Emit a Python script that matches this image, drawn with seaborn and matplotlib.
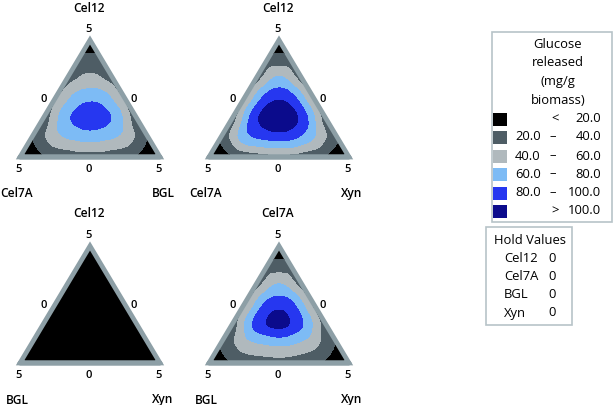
import numpy as np
import matplotlib
matplotlib.use("Agg")
import matplotlib.pyplot as plt
import matplotlib.tri as mtri
from matplotlib.patches import Rectangle
import seaborn as sns

# ---------------- data ----------------
levels = [20, 40, 60, 80, 100]
band_colors = ["#000000", "#4e5d65", "#b0b9bd", "#7dbbf5", "#2637f0", "#0b0b8c"]

panel_top = ["Cel12", "Cel12", "Cel12", "Cel7A"]
panel_left = ["Cel7A", "Cel7A", "BGL", "BGL"]
panel_right = ["BGL", "Xyn", "Xyn", "Xyn"]
vertex_tick = "5"
edge_tick = "0"

# glucose released on a simplex lattice (rows from top vertex down, left to right)
glucose_cel12_cel7a_bgl = [
    [5],
    [25, 25],
    [31, 46, 31],
    [35, 70, 72, 35],
    [26, 75, 93, 77, 26],
    [19, 52, 65, 65, 52, 19],
    [5, 18, 26, 30, 26, 18, 5],
]
glucose_cel12_cel7a_xyn = [
    [5],
    [25, 25],
    [30, 65, 30],
    [35, 90, 90, 35],
    [28, 95, 118, 92, 28],
    [22, 70, 85, 85, 60, 22],
    [5, 18, 28, 32, 28, 18, 5],
]
glucose_cel12_bgl_xyn = [
    [5],
    [8, 8],
    [9, 11, 9],
    [10, 12, 12, 10],
    [9, 12, 13, 12, 9],
    [8, 10, 11, 11, 10, 8],
    [5, 7, 8, 9, 8, 7, 5],
]
glucose_cel7a_bgl_xyn = [
    [5],
    [25, 25],
    [30, 62, 30],
    [33, 86, 86, 33],
    [28, 86, 106, 81, 28],
    [22, 51, 62, 62, 46, 18],
    [5, 20, 27, 30, 25, 17, 5],
]
panel_values = [glucose_cel12_cel7a_bgl, glucose_cel12_cel7a_xyn,
                glucose_cel12_bgl_xyn, glucose_cel7a_bgl_xyn]

legend_title = ["Glucose", "released", "(mg/g", "biomass)"]
hold_names = ["Cel12", "Cel7A", "BGL", "Xyn"]
hold_values = [0, 0, 0, 0]

# ---------------- style ----------------
sns.set_theme(style="white")
plt.rcParams["font.family"] = ["Open Sans", "DejaVu Sans"]
palette = sns.color_palette(band_colors)
border_col = "#8d9fa6"
box_col = "#b7c3c8"

W, Hpx = 614, 405
fig = plt.figure(figsize=(W / 100, Hpx / 100), dpi=100)
H = np.sqrt(3) / 2


def fx(x):
    return x / W


def fy(y):
    return 1 - y / Hpx


# triangle anchor (top vertex x, top y, base y, left x, right x) in pixels
anchors = [
    (90, 40, 157, 20, 160),
    (279, 40, 157, 209, 349),
    (90, 246, 363, 20, 160),
    (279, 246, 363, 209, 349),
]


def draw_panel(ax, rows):
    n = len(rows) - 1
    xs, ys, zs = [], [], []
    for r, row in enumerate(rows):
        i = n - r
        for p, v in enumerate(row):
            k = p
            xs.append((k + 0.5 * i) / n)
            ys.append(H * i / n)
            zs.append(v)
    xs, ys, zs = np.array(xs), np.array(ys), np.array(zs, dtype=float)
    tri = mtri.Triangulation(xs, ys)
    interp = mtri.CubicTriInterpolator(tri, zs, kind="geom")
    refiner = mtri.UniformTriRefiner(tri)
    tri_r, z_r = refiner.refine_field(zs, interp, subdiv=4)
    ax.tricontourf(tri_r, z_r, levels=[-1e4] + levels + [1e4], colors=palette)
    ax.plot([0, 1, 0.5, 0, 1], [0, 0, H, 0, 0], color=border_col, lw=3.4,
            solid_joinstyle="miter", clip_on=False)
    ax.set_xlim(0, 1)
    ax.set_ylim(0, H)
    ax.axis("off")


tick_kw = dict(fontsize=8, fontweight="semibold", ha="center", va="center", color="#000000")
name_kw = dict(fontsize=8.6, fontweight="semibold", ha="center", va="center", color="#000000")

for idx, (tx, ty, by, lx, rx) in enumerate(anchors):
    ax = fig.add_axes([fx(lx), fy(by), (rx - lx) / W, (by - ty) / Hpx])
    draw_panel(ax, panel_values[idx])
    fig.text(fx(tx - 1), fy(ty - 32), panel_top[idx], **name_kw)
    fig.text(fx(tx - 1), fy(ty - 11), vertex_tick, **tick_kw)
    fig.text(fx(tx - 46), fy(ty + 60), edge_tick, **tick_kw)
    fig.text(fx(tx + 44), fy(ty + 60), edge_tick, **tick_kw)
    fig.text(fx(lx - 1), fy(by + 12), vertex_tick, **tick_kw)
    fig.text(fx(tx - 1), fy(by + 12), edge_tick, **tick_kw)
    fig.text(fx(rx - 1), fy(by + 12), vertex_tick, **tick_kw)
    fig.text(fx(tx - 73), fy(by + 37), panel_left[idx], **name_kw)
    fig.text(fx(tx + 73), fy(by + 37), panel_right[idx], **name_kw)

# ---------------- legend ----------------
lg = fig.add_axes([0, 0, 1, 1], zorder=-1)
lg.set_xlim(0, W)
lg.set_ylim(Hpx, 0)
lg.axis("off")

lg.add_patch(Rectangle((492, 32), 120, 190, fill=False, ec=box_col, lw=1.2))
lg.add_patch(Rectangle((486, 227), 86, 98, fill=False, ec=box_col, lw=1.2))

leg_kw = dict(fontsize=9.4, va="center", color="#000000")
for t, yy in zip(legend_title, [45, 63, 82, 100]):
    lg.text(558, yy, t, ha="center", **leg_kw)

row_y = [119, 137, 156, 174, 193, 211]
edges = [None] + levels + [None]
for b in range(len(band_colors)):
    y0 = row_y[b]
    lg.add_patch(Rectangle((493, y0 - 6.5), 14, 13, fc=palette[b], ec="none"))
    lo, hi = edges[b], edges[b + 1]
    if lo is None:
        lg.text(555, y0, "<", ha="center", **leg_kw)
        lg.text(601, y0, f"{hi:.1f}", ha="right", **leg_kw)
    elif hi is None:
        lg.text(555, y0, ">", ha="center", **leg_kw)
        lg.text(601, y0, f"{lo:.1f}", ha="right", **leg_kw)
    else:
        lg.text(515, y0, f"{lo:.1f}", ha="left", **leg_kw)
        lg.text(553, y0, "\u2013", ha="center", **leg_kw)
        lg.text(601, y0, f"{hi:.1f}", ha="right", **leg_kw)

lg.text(530, 241, "Hold Values", ha="center", **leg_kw)
for nm, v, yy in zip(hold_names, hold_values, [258, 277, 295, 313]):
    lg.text(504, yy, nm, ha="left", **leg_kw)
    lg.text(552, yy, str(v), ha="center", **leg_kw)

fig.savefig("out.png", dpi=100)
